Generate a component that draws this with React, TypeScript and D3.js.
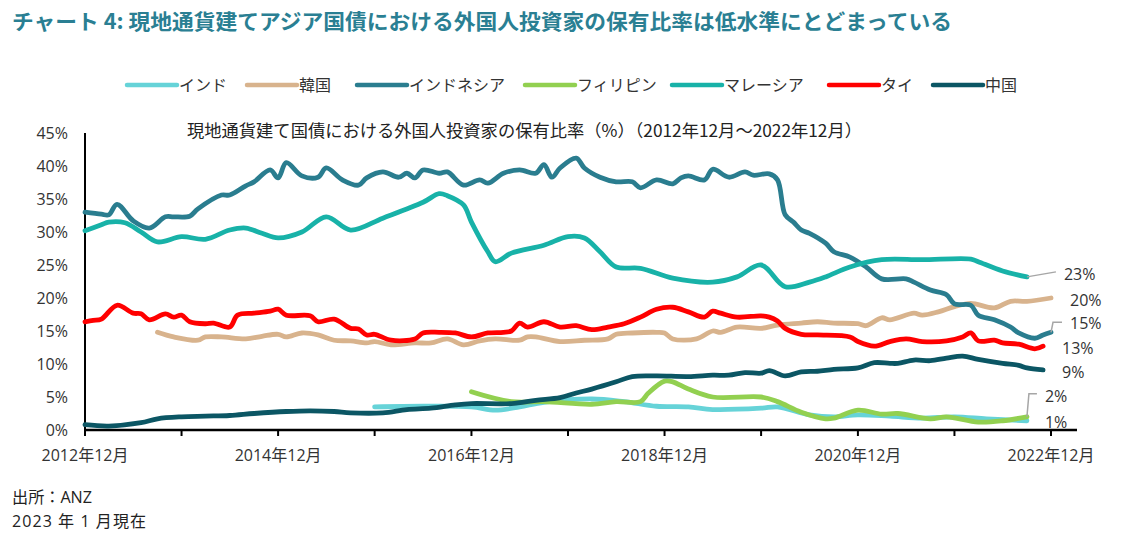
import React from "react";
import * as d3 from "d3";

// month offsets (from Dec 2012) and values (%)
const indiaPts: [number, number][] = [[36,3.5],[42,3.6],[48,3.5],[51,3.0],[54,3.5],[57,4.2],[63,4.7],[67,4.3],[71,3.6],[75,3.5],[78,3.1],[84,3.3],[86,3.5],[90,2.3],[93,2.0],[96,2.3],[100,2.1],[104,1.8],[108,2.0],[112,1.7],[117,1.4]];
const koreaPts: [number, number][] = [[9,14.8],[11,14.1],[14,13.6],[15,14.1],[17,14.1],[20,13.8],[22,14.2],[24,14.5],[25,14.1],[27,14.7],[29,14.4],[31,13.6],[33,13.5],[35,13.2],[36,13.4],[38,12.9],[41,13.2],[43,13.2],[45,13.8],[47,12.9],[49,13.5],[51,13.8],[54,13.6],[55,14.1],[56,14.1],[59,13.4],[62,13.6],[65,13.8],[66,14.5],[68,14.7],[71,14.8],[72,14.7],[73,13.8],[76,13.8],[78,15.0],[79,14.8],[81,15.6],[84,15.4],[86,15.9],[89,16.2],[91,16.4],[93,16.2],[96,16.1],[97,15.8],[99,17.0],[100,16.7],[103,17.7],[104,17.4],[106,17.9],[108,18.7],[110,19.2],[113,18.5],[115,19.5],[117,19.5],[120,20.0]];
const indonesiaPts: [number, number][] = [[0,33.0],[2,32.7],[3,32.6],[4,34.2],[6,31.7],[8,30.6],[10,32.3],[11,32.3],[13,32.4],[14,33.5],[17,35.6],[18,35.6],[20,37.0],[21,37.6],[23,39.4],[24,38.2],[25,40.5],[27,38.5],[29,38.3],[30,39.7],[32,37.9],[34,37.1],[35,38.2],[37,39.1],[39,38.3],[40,38.9],[41,38.2],[42,39.4],[44,38.9],[45,39.1],[47,37.1],[49,37.9],[50,37.4],[52,38.9],[54,39.4],[56,38.9],[57,40.2],[58,38.3],[59,39.7],[61,41.2],[62,39.7],[64,38.3],[66,37.6],[68,37.6],[69,36.7],[71,37.9],[73,37.3],[74,38.2],[75,38.5],[77,37.9],[78,39.5],[80,38.3],[82,39.1],[83,38.6],[85,38.8],[86,37.9],[87,32.6],[88,31.5],[89,30.3],[90,29.8],[92,28.3],[93,27.0],[95,26.2],[97,24.7],[99,22.9],[102,22.9],[103,22.4],[105,21.2],[107,20.5],[108,19.1],[110,18.9],[111,17.4],[113,16.7],[115,15.6],[116,14.7],[118,13.9],[119,14.4],[120,14.8]];
const philippinesPts: [number, number][] = [[48,5.8],[53,4.3],[57,4.3],[63,3.9],[66,4.3],[69,4.3],[70,5.6],[72,7.4],[73,7.3],[75,6.2],[78,5.0],[84,5.0],[86,4.3],[89,2.7],[92,1.7],[93,1.8],[96,3.0],[99,2.4],[101,2.5],[105,1.7],[107,2.0],[111,1.2],[114,1.4],[117,2.0]];
const malaysiaPts: [number, number][] = [[0,30.2],[2,31.1],[3,31.5],[5,31.4],[7,30.0],[9,28.5],[12,29.3],[15,28.9],[18,30.3],[20,30.6],[22,29.8],[24,29.1],[27,30.0],[30,32.3],[33,30.3],[37,32.1],[42,34.5],[44,35.8],[45,35.5],[47,34.1],[48,31.5],[50,27.0],[51,25.5],[53,26.8],[57,28.0],[60,29.3],[62,29.1],[64,27.0],[66,24.7],[69,24.5],[73,23.0],[78,22.4],[81,23.2],[84,25.0],[87,21.7],[90,22.4],[92,23.2],[95,24.7],[99,25.8],[104,25.8],[110,25.9],[111,25.5],[114,24.1],[117,23.2]];
const thailandPts: [number, number][] = [[0,16.4],[1,16.6],[2,16.8],[4,18.9],[6,17.7],[7,17.6],[8,16.7],[10,17.6],[11,17.1],[12,17.4],[13,16.4],[15,16.1],[16,16.2],[18,15.6],[19,17.4],[21,17.7],[23,18.0],[24,18.3],[25,17.4],[28,17.3],[29,16.4],[31,16.8],[33,15.4],[34,15.3],[35,14.4],[36,14.5],[38,13.6],[41,13.8],[42,14.7],[44,14.8],[46,14.7],[48,14.1],[50,14.7],[52,14.8],[53,15.0],[54,16.2],[55,15.6],[57,16.4],[59,15.6],[61,15.8],[63,15.2],[65,15.6],[67,16.1],[69,17.1],[71,18.3],[73,18.6],[75,17.9],[77,17.1],[78,18.0],[79,17.7],[81,17.1],[84,17.3],[85,17.1],[86,16.5],[87,15.4],[89,14.5],[91,14.4],[95,14.1],[96,13.4],[98,12.7],[100,13.4],[102,13.8],[104,13.4],[107,13.5],[109,14.1],[110,14.7],[111,13.5],[113,13.6],[114,13.2],[116,13.0],[118,12.3],[119,12.7]];
const chinaPts: [number, number][] = [[0,0.8],[3,0.6],[7,1.1],[9,1.7],[12,2.0],[15,2.1],[18,2.2],[21,2.5],[25,2.8],[28,2.9],[31,2.8],[33,2.6],[37,2.6],[40,3.1],[43,3.3],[46,3.8],[48,4.0],[53,4.0],[56,4.5],[59,4.9],[61,5.6],[63,6.2],[66,7.3],[68,8.1],[71,8.2],[75,8.1],[78,8.3],[80,8.3],[82,8.7],[84,8.6],[85,9.0],[87,8.2],[89,8.8],[91,8.9],[93,9.2],[96,9.4],[98,10.2],[100,10.1],[101,10.1],[103,10.6],[105,10.5],[107,10.9],[109,11.2],[111,10.7],[114,10.1],[116,9.8],[117,9.4],[119,9.1]];

const seriesNames = ["インド", "韓国", "インドネシア", "フィリピン", "マレーシア", "タイ", "中国"];
const seriesColors = ["#66D3D8", "#D8B38D", "#2A7D8F", "#92D050", "#18B2A8", "#FF0000", "#0B5664"];
const seriesData = [indiaPts, koreaPts, indonesiaPts, philippinesPts, malaysiaPts, thailandPts, chinaPts];
const endLabels = ["1%", "20%", "15%", "2%", "23%", "13%", "9%"];

const yTicks = [0, 5, 10, 15, 20, 25, 30, 35, 40, 45];
const title = "チャート 4: 現地通貨建てアジア国債における外国人投資家の保有比率は低水準にとどまっている";
const subtitle = "現地通貨建て国債における外国人投資家の保有比率（%）（2012年12月～2022年12月）";
const source1 = "出所：ANZ";
const source2 = "2023 年 1 月現在";

const FONT = "'Open Sans', 'Noto Sans CJK JP', sans-serif";
const CJK = "'Noto Sans CJK JP', sans-serif";

// label placement (offsets from the series' last point), leader offsets
const labelStyle: { dx: number; dy: number; leader?: [number, number][] }[] = [
  { dx: 18, dy: 1 },
  { dx: 19, dy: 2 },
  { dx: 19, dy: -9, leader: [[0, 0], [2, -10], [11, -10]] },
  { dx: 18, dy: -21, leader: [[0, 0], [2, -23], [10, -23]] },
  { dx: 37, dy: -3, leader: [[0, 0], [29, -5]] },
  { dx: 19, dy: 2 },
  { dx: 19, dy: 2 },
];

const toDate = (m: number) => new Date(2012, 11 + m, 1);

export default function App() {
  const x = d3.scaleTime().domain([toDate(0), toDate(120)]).range([85, 1051]);
  const y = d3.scaleLinear().domain([0, 45]).range([430, 133]);
  const line = d3
    .line<[number, number]>()
    .x((d) => x(toDate(d[0])))
    .y((d) => y(d[1]))
    .curve(d3.curveCatmullRom.alpha(0.5));
  const xTicks = d3.range(0, 121, 12).map(toDate);
  const fmtTick = (d: Date) => `${d.getFullYear()}年${d.getMonth() + 1}月`;
  const legendX = [127, 247, 357, 525, 672, 829, 933];

  return (
    <svg width={1126} height={543} style={{ position: "absolute", left: 0, top: 0, background: "#fff" }}>
      <text x={12} y={29} fontFamily={CJK} fontWeight="bold" fontSize={21} textLength={940} lengthAdjust="spacingAndGlyphs" fill="#2A7F93">{title}</text>
      {seriesNames.map((n, i) => (
        <g key={n}>
          <line x1={legendX[i]} x2={legendX[i] + 50} y1={85} y2={85} stroke={seriesColors[i]} strokeWidth={4.5} strokeLinecap="round" />
          <text x={legendX[i] + 52} y={85} dy="0.36em" fontFamily={CJK} fontSize={16} fill="#333">{n}</text>
        </g>
      ))}
      <text x={187} y={131} dy="0.36em" fontFamily={CJK} fontSize={17} textLength={675} lengthAdjust="spacingAndGlyphs" fill="#222">{subtitle}</text>
      {yTicks.map((t) => (
        <text key={t} x={68} y={y(t)} dy="0.36em" textAnchor="end" fontFamily={FONT} fontSize={16} fill="#333">{`${t}%`}</text>
      ))}
      <line x1={85} x2={85} y1={y(45)} y2={y(0)} stroke="#000" strokeWidth={2} />
      <line x1={84} x2={1077} y1={y(0)} y2={y(0)} stroke="#000" strokeWidth={2.5} />
      {xTicks.map((d, i) => (
        <g key={i}>
          <line x1={x(d)} x2={x(d)} y1={y(0)} y2={y(0) + 6} stroke="#000" strokeWidth={2} />
          {i % 2 === 0 && (
            <text x={x(d)} y={455} dy="0.36em" textAnchor="middle" fontFamily={FONT} fontSize={16} fill="#333">{fmtTick(d)}</text>
          )}
        </g>
      ))}
      {seriesData.map((pts, i) => (
        <path key={i} d={line(pts) || ""} fill="none" stroke={seriesColors[i]} strokeWidth={4.8} strokeLinejoin="round" strokeLinecap="round" />
      ))}
      {seriesData.map((pts, i) => {
        const last = pts[pts.length - 1];
        const px = x(toDate(last[0]));
        const py = y(last[1]);
        const s = labelStyle[i];
        return (
          <g key={`l${i}`}>
            {s.leader && (
              <polyline points={s.leader.map(([a, b]) => `${px + a},${py + b}`).join(" ")} fill="none" stroke="#A6A6A6" strokeWidth={1.5} />
            )}
            <text x={px + s.dx} y={py + s.dy} dy="0.36em" fontFamily={FONT} fontSize={16} fill="#333">{endLabels[i]}</text>
          </g>
        );
      })}
      <text x={12} y={497} dy="0.36em" fontFamily={FONT} fontSize={16} textLength={80} lengthAdjust="spacingAndGlyphs" fill="#222">{source1}</text>
      <text x={12} y={521} dy="0.36em" fontFamily={FONT} fontSize={16} textLength={134} lengthAdjust="spacing" fill="#222">{source2}</text>
    </svg>
  );
}
